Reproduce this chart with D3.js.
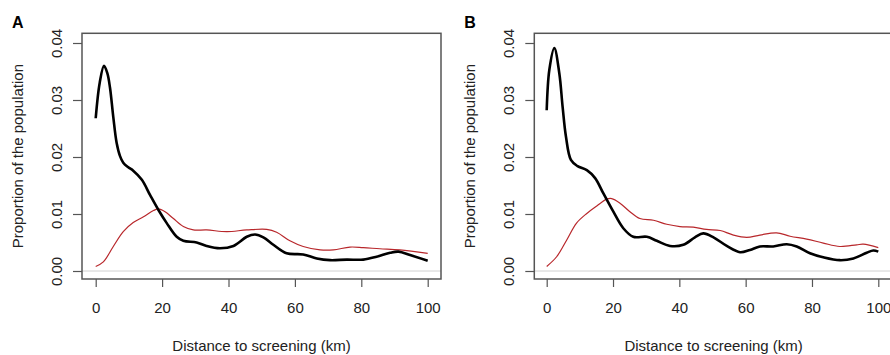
<!DOCTYPE html>
<html><head><meta charset="utf-8">
<script src="https://cdn.jsdelivr.net/npm/d3@7"></script>
<style>body{margin:0;background:#fff}svg{display:block}text{font-family:"Liberation Sans",Arial,sans-serif}</style>
</head><body><svg id="c" width="890" height="355"></svg>
<script>
// Panel A
const aBlackX = [0,1.2,2.5,3.5,4.3,5.3,6.3,7.3,8.3,9.8,11.3,13.9,16.4,18.9,21.4,24.4,26.4,30.4,33.4,37.4,41.5,45.5,48,50.5,53.5,57.5,62.5,66.6,70.6,75.6,80.6,84.6,88.7,91.2,94.7,100];
const aBlackY = [0.0268,0.033,0.036,0.0347,0.0322,0.027,0.0225,0.0202,0.019,0.0182,0.0176,0.016,0.0133,0.0107,0.0084,0.006,0.0053,0.005,0.0044,0.004,0.0044,0.006,0.0064,0.0059,0.0046,0.0031,0.0029,0.0022,0.0019,0.002,0.002,0.0025,0.0032,0.0034,0.0028,0.0018];
const aRedX = [0,2.3,5.3,8.3,11.3,14.4,17.4,18.9,20.9,23.4,26.4,29.4,33.4,39.5,45.5,51.5,54.5,58.5,62.5,67.6,71.6,76.6,80.6,85.6,91.6,100];
const aRedY = [0.0008,0.0016,0.0043,0.0069,0.0085,0.0095,0.0106,0.0109,0.0104,0.0092,0.0078,0.0072,0.0072,0.0069,0.0072,0.0073,0.0068,0.0053,0.0043,0.0037,0.0037,0.0042,0.0041,0.0039,0.0037,0.0031];
// Panel B
const bBlackX = [0,0.8,2.3,3.8,4.8,5.8,7.3,9.3,12.1,14.6,17.1,20.1,23.1,26.1,30.2,33.2,37.2,41.2,44.7,47.2,50.3,54.3,58.3,61.3,64.3,68.3,72.4,75.4,79.4,83.4,88.4,92.5,96.5,98.5,100];
const bBlackY = [0.0282,0.0353,0.0391,0.0347,0.0288,0.0236,0.0195,0.0184,0.0177,0.0163,0.0136,0.0104,0.0075,0.006,0.006,0.0053,0.0044,0.0046,0.0059,0.0066,0.0059,0.0044,0.0033,0.0037,0.0043,0.0043,0.0047,0.0043,0.0031,0.0024,0.0019,0.0022,0.0032,0.0036,0.0034];
const bRedX = [0,3,6,9,12.1,15.1,18.1,19.6,22.1,25.1,28.1,32.2,36.2,40.2,44.2,48.2,52.3,56.3,60.3,64.3,69.3,73.4,78.4,83.4,88.4,93.5,95.5,100];
const bRedY = [0.0008,0.0025,0.0054,0.0084,0.0101,0.0114,0.0126,0.0127,0.0119,0.0104,0.0092,0.0089,0.0082,0.0078,0.0077,0.0073,0.0071,0.0063,0.0059,0.0063,0.0067,0.0061,0.0056,0.0049,0.0043,0.0046,0.0047,0.0041];

const xTicks = [0,20,40,60,80,100];
const yTicks = [0,0.01,0.02,0.03,0.04];
const yTickLabels = ["0.00","0.01","0.02","0.03","0.04"];
const panelLabels = ["A","B"];
const xTitle = "Distance to screening (km)";
const yTitle = "Proportion of the population";

const svg = d3.select("#c");
const panels = [
  {label:panelLabels[0], x0:95.7, x1:427.7, boxL:82, boxR:441, black:[aBlackX,aBlackY], red:[aRedX,aRedY]},
  {label:panelLabels[1], x0:546.7, x1:878.3, boxL:534.3, boxR:893, black:[bBlackX,bBlackY], red:[bRedX,bRedY]}
];
const boxT = 33.3, boxB = 279;
const y = d3.scaleLinear().domain([0,0.04]).range([271,43]);
const axisCol = "#555";

panels.forEach(p => {
  const x = d3.scaleLinear().domain([0,100]).range([p.x0,p.x1]);
  const g = svg.append("g");
  g.append("line").attr("x1",p.boxL).attr("x2",p.boxR).attr("y1",y(0)).attr("y2",y(0))
    .attr("stroke","#d0d0d0").attr("stroke-width",1);
  const line = d3.line().x(d=>x(d[0])).y(d=>y(d[1])).curve(d3.curveCatmullRom.alpha(0.5));
  g.append("path").datum(p.red[0].map((v,i)=>[v,p.red[1][i]])).attr("d",line)
    .attr("fill","none").attr("stroke","#b8272b").attr("stroke-width",1.2);
  g.append("path").datum(p.black[0].map((v,i)=>[v,p.black[1][i]])).attr("d",line)
    .attr("fill","none").attr("stroke","#000").attr("stroke-width",2.6).attr("stroke-linejoin","round");
  g.append("rect").attr("x",p.boxL).attr("y",boxT).attr("width",p.boxR-p.boxL).attr("height",boxB-boxT)
    .attr("fill","none").attr("stroke",axisCol).attr("stroke-width",1.5);
  const xa = g.append("g").attr("transform",`translate(0,${boxB})`)
    .call(d3.axisBottom(x).tickValues(xTicks).tickSize(8).tickPadding(10).tickSizeOuter(0));
  xa.select(".domain").remove();
  xa.selectAll("line").attr("stroke",axisCol).attr("stroke-width",1.2);
  xa.selectAll("text").attr("font-size",15).attr("fill","#222").attr("dy",null).attr("y",34);
  const ya = g.append("g").attr("transform",`translate(${p.boxL},0)`)
    .call(d3.axisLeft(y).tickValues(yTicks).tickFormat((d,i)=>yTickLabels[i]).tickSize(9).tickSizeOuter(0));
  ya.select(".domain").remove();
  ya.selectAll("line").attr("stroke",axisCol).attr("stroke-width",1.2);
  ya.selectAll("text").attr("font-size",15).attr("fill","#222").attr("x",null).attr("dy",null)
    .attr("text-anchor","middle").attr("transform","translate(-20.5,0) rotate(-90)");
  g.append("text").attr("x",(p.boxL+Math.min(p.boxR,441+(p.boxL-82)))/2).attr("y",351)
    .attr("text-anchor","middle").attr("font-size",15).attr("fill","#222").text(xTitle);
  g.append("text").attr("transform",`translate(${p.boxL-59.5},${(boxT+boxB)/2}) rotate(-90)`)
    .attr("text-anchor","middle").attr("font-size",15).attr("fill","#222").text(yTitle);
  g.append("text").attr("x",p.boxL-70).attr("y",28.3).attr("font-size",16).attr("font-weight","bold")
    .attr("fill","#000").text(p.label);
});
</script></body></html>
